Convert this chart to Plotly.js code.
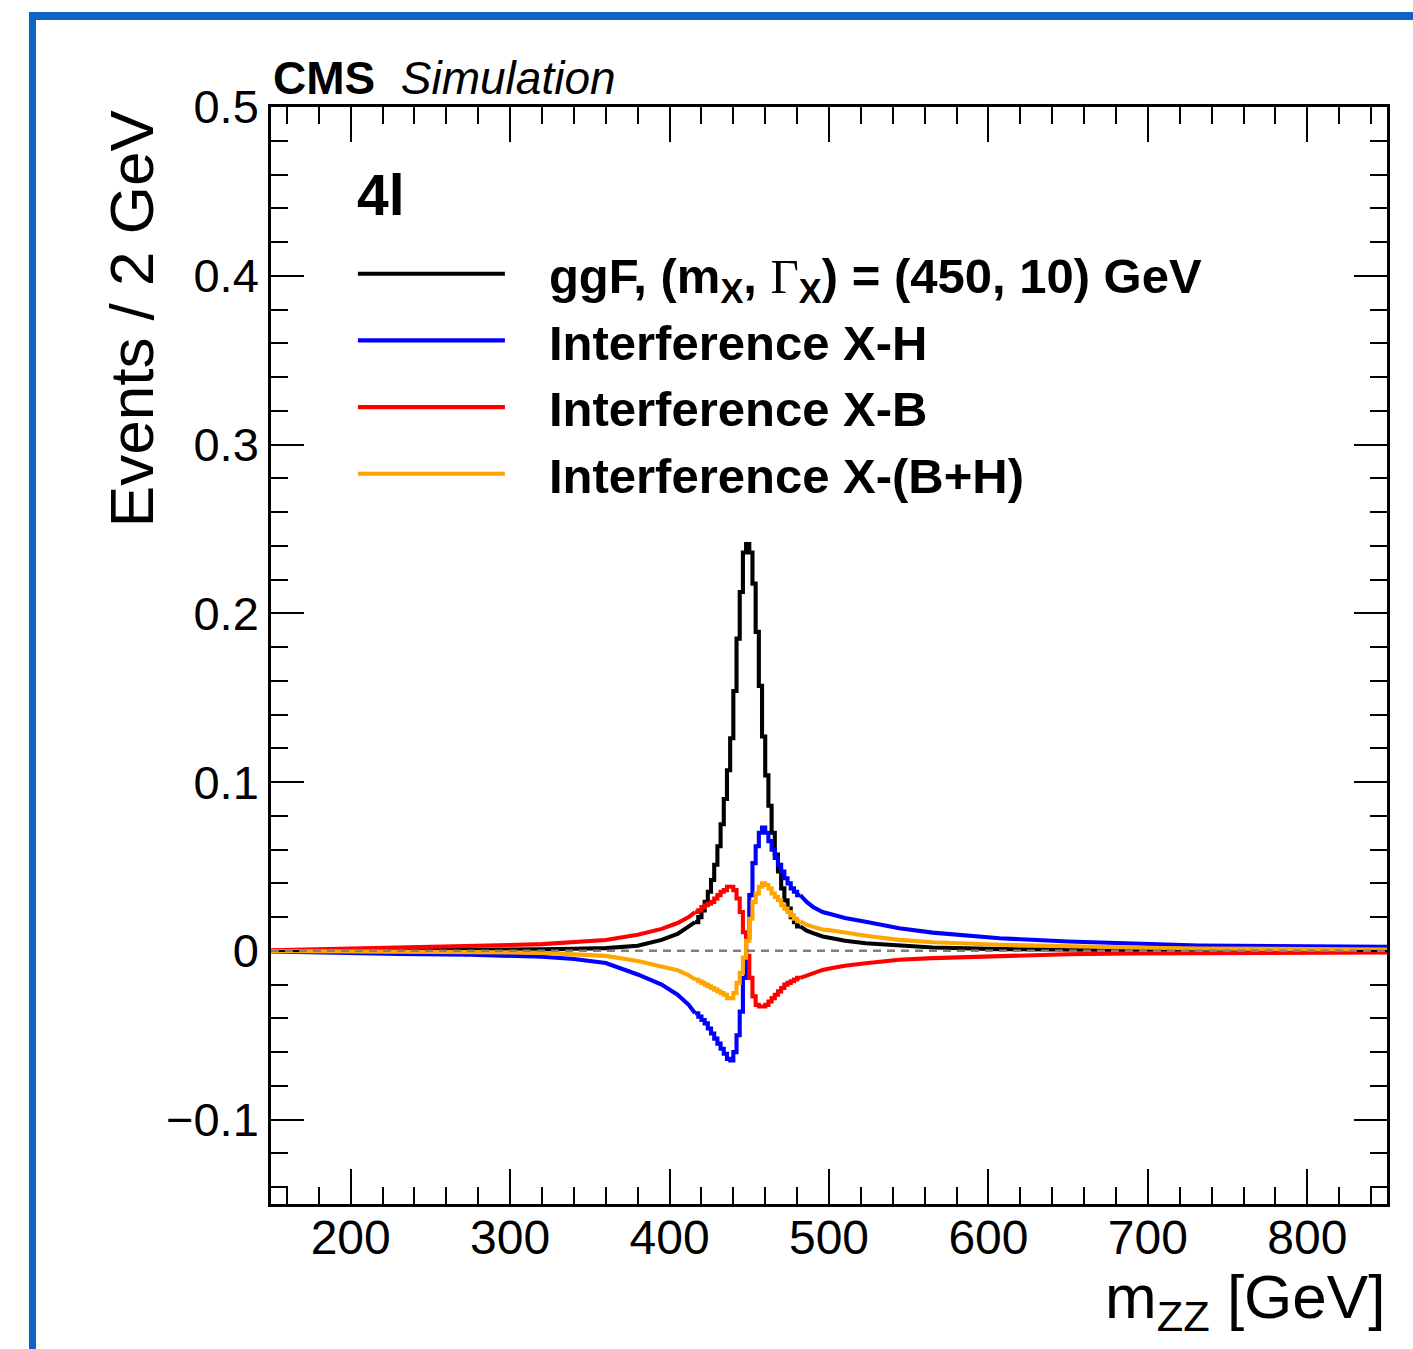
<!DOCTYPE html>
<html>
<head>
<meta charset="utf-8">
<script src="https://cdn.plot.ly/plotly-3.0.1.min.js"></script>
<style>
  html, body { margin: 0; padding: 0; background: #ffffff; }
  #wrap { position: relative; width: 1413px; height: 1349px; overflow: hidden; background: #fff; }
  #chart { position: absolute; left: 0; top: 0; width: 1413px; height: 1349px; }
  #frame { position: absolute; left: 29px; top: 12px; right: -20px; bottom: -20px;
           border-top: 8px solid #0a65c7; border-left: 7px solid #0a65c7; pointer-events: none; }
</style>
</head>
<body>
<div id="wrap">
  <div id="chart"></div>
  <div id="frame"></div>
</div>
<script>
// ---------------- data (Events / 2 GeV) ----------------
// core region: 2 GeV bins, low edges 416 ... 480, last edge 482
const coreEdges = [416,418,420,422,424,426,428,430,432,434,436,438,440,442,444,446,448,450,
                   452,454,456,458,460,462,464,466,468,470,472,474,476,478,480,482];
const ggfCore = [0.017,0.020,0.024,0.029,0.035,0.042,0.051,0.062,0.075,0.090,0.107,0.126,0.154,0.185,0.2126,0.236,0.241,0.236,
                 0.2176,0.189,0.157,0.127,0.104,0.086,0.070,0.057,0.047,0.037,0.030,0.025,0.020,0.017,0.0145];
const xhCore  = [-0.037,-0.039,-0.041,-0.043,-0.046,-0.049,-0.052,-0.055,-0.058,-0.061,-0.064,-0.065,-0.060,-0.050,-0.036,-0.016,0.008,0.033,
                 0.052,0.062,0.070,0.073,0.070,0.065,0.060,0.055,0.051,0.047,0.043,0.040,0.037,0.035,0.033];
const xbCore  = [0.023,0.024,0.026,0.027,0.028,0.029,0.031,0.033,0.035,0.036,0.038,0.038,0.036,0.031,0.023,0.011,-0.003,-0.016,
                 -0.027,-0.032,-0.033,-0.033,-0.032,-0.030,-0.028,-0.026,-0.024,-0.022,-0.020,-0.019,-0.018,-0.017,-0.016];
const xbhCore = [-0.017,-0.018,-0.019,-0.020,-0.021,-0.022,-0.023,-0.024,-0.025,-0.026,-0.028,-0.028,-0.025,-0.019,-0.013,-0.004,0.006,0.019,
                 0.029,0.034,0.038,0.040,0.039,0.037,0.034,0.032,0.030,0.027,0.025,0.023,0.021,0.019,0.0175];

// smooth tails (low-mass side and high-mass side)
const leftMass  = [150,190,230,275,300,320,340,360,380,395,405,412,416];
const ggfLeft   = [0,0.0001,0.0003,0.0006,0.0007,0.0009,0.0012,0.0016,0.003,0.0065,0.010,0.0144,0.017];
const xhLeft    = [-0.0003,-0.0012,-0.0018,-0.0023,-0.0027,-0.0035,-0.0048,-0.0072,-0.014,-0.020,-0.026,-0.032,-0.037];
const xbLeft    = [0.0003,0.001,0.002,0.0029,0.0035,0.004,0.005,0.0064,0.0095,0.013,0.0165,0.020,0.023];
const xbhLeft   = [-0.0001,-0.0002,-0.0003,-0.0007,-0.0009,-0.0012,-0.002,-0.003,-0.006,-0.009,-0.0115,-0.0145,-0.017];

const rightMass = [482,486,490,496,502,510,523,544,565,607,650,690,732,800,850];
const ggfRight  = [0.0145,0.012,0.0105,0.0085,0.0075,0.006,0.0045,0.003,0.002,0.001,0.0006,0.0003,0.0002,0.0001,0.0001];
const xhRight   = [0.033,0.029,0.026,0.023,0.0215,0.0195,0.0172,0.0134,0.0108,0.0075,0.0055,0.0041,0.0032,0.0027,0.0024];
const xbRight   = [-0.016,-0.0145,-0.013,-0.0113,-0.0102,-0.0088,-0.0073,-0.0053,-0.0043,-0.003,-0.002,-0.0015,-0.0012,-0.001,-0.0009];
const xbhRight  = [0.0175,0.0155,0.0142,0.0126,0.012,0.0106,0.0089,0.0065,0.0051,0.0036,0.0026,0.002,0.0014,0.001,0.0008];

const seriesNames = [
  "<b>ggF, (m<sub>X</sub>, <span style='font-family:\"Liberation Serif\",\"DejaVu Serif\",serif;font-weight:normal'>Γ</span><sub>X</sub>) = (450, 10) GeV</b>",
  "<b>Interference X-H</b>",
  "<b>Interference X-B</b>",
  "<b>Interference X-(B+H)</b>"
];
const seriesColors = ["#000000", "#0000ff", "#ff0000", "#ffa500"];

const xTickVals = [200, 300, 400, 500, 600, 700, 800];
const yTickVals = [-0.1, 0, 0.1, 0.2, 0.3, 0.4, 0.5];
const yTickText = ["\u22120.1", "0", "0.1", "0.2", "0.3", "0.4", "0.5"];

// ---------------- traces ----------------
const FONT = "'Liberation Sans', Arial, Helvetica, sans-serif";
const cores  = [ggfCore, xhCore, xbCore, xbhCore];
const lefts  = [ggfLeft, xhLeft, xbLeft, xbhLeft];
const rights = [ggfRight, xhRight, xbRight, xbhRight];
const LW = 4.1;
const traces = [];
for (let i = 0; i < 4; i++) {
  const c = seriesColors[i];
  traces.push({ x: leftMass, y: lefts[i], mode: "lines", line: {color: c, width: LW, shape: "linear"},
                showlegend: false, legendgroup: "g" + i, hoverinfo: "skip" });
  traces.push({ x: coreEdges, y: cores[i].concat([cores[i][cores[i].length - 1]]), mode: "lines",
                line: {color: c, width: LW, shape: "hv"}, name: seriesNames[i], legendgroup: "g" + i,
                showlegend: true });
  traces.push({ x: rightMass, y: rights[i], mode: "lines", line: {color: c, width: LW, shape: "linear"},
                showlegend: false, legendgroup: "g" + i, hoverinfo: "skip" });
}

const layout = {
  width: 1413, height: 1349,
  margin: {l: 271, r: 26, t: 107, b: 145},
  paper_bgcolor: "rgba(0,0,0,0)",
  plot_bgcolor: "#ffffff",
  font: {family: FONT, color: "#000"},
  showlegend: true,
  legend: {
    x: 0.0698, xanchor: "left", y: 0.883, yanchor: "top",
    bgcolor: "rgba(0,0,0,0)", borderwidth: 0,
    font: {size: 49, family: FONT, color: "#000"},
    itemwidth: 190, tracegroupgap: 0, traceorder: "normal"
  },
  xaxis: {
    range: [150, 850], tickvals: xTickVals, ticktext: xTickVals.map(String),
    ticks: "inside", ticklen: 35, tickwidth: 2, tickcolor: "#000",
    showline: true, linewidth: 2.8, linecolor: "#000", mirror: "allticks",
    showgrid: false, zeroline: false, ticklabelstandoff: -10,
    tickfont: {size: 48, family: FONT, color: "#000"},
    minor: {dtick: 20, tick0: 0, ticks: "inside", ticklen: 17, tickwidth: 2, tickcolor: "#000", showgrid: false}
  },
  yaxis: {
    range: [-0.15, 0.5], tickvals: yTickVals, ticktext: yTickText,
    ticks: "inside", ticklen: 33, tickwidth: 2, tickcolor: "#000",
    showline: true, linewidth: 2.8, linecolor: "#000", mirror: "allticks",
    showgrid: false, zeroline: false,
    tickfont: {size: 47, family: FONT, color: "#000"},
    minor: {dtick: 0.02, tick0: 0, ticks: "inside", ticklen: 17, tickwidth: 2, tickcolor: "#000", showgrid: false}
  },
  shapes: [
    {type: "line", xref: "paper", x0: 0, x1: 1, yref: "y", y0: 0, y1: 0, layer: "above",
     line: {color: "#7f7f7f", width: 2.5, dash: "8px,6px"}}
  ],
  annotations: [
    {text: "Events / 2 GeV", textangle: -90, xref: "paper", yref: "paper", x: -0.1253, y: 1.0,
     xanchor: "center", yanchor: "top", showarrow: false, font: {size: 62, family: FONT, color: "#000"}},
    {text: "m<sub>ZZ</sub> [GeV]", xref: "paper", yref: "paper", x: 1.0, y: -0.088,
     xanchor: "right", yanchor: "middle", showarrow: false, font: {size: 62, family: FONT, color: "#000"}},
    {text: "<b>CMS</b>  <i>Simulation</i>", xref: "paper", yref: "paper", x: 0.0, y: 1.0264,
     xanchor: "left", yanchor: "middle", showarrow: false, font: {size: 46, family: FONT, color: "#000"}},
    {text: "<b>4l</b>", xref: "paper", yref: "paper", x: 0.0752, y: 0.9198,
     xanchor: "left", yanchor: "middle", showarrow: false, font: {size: 57, family: FONT, color: "#000"}}
  ]
};

Plotly.newPlot("chart", traces, layout, {displayModeBar: false, staticPlot: true}).then(function () {
  // lengthen legend line samples to ROOT-style long lines
  document.querySelectorAll("#chart .legend g.traces").forEach(function (g) {
    const text = g.querySelector(".legendtext");
    const path = g.querySelector(".legendlines path");
    if (!text || !path) return;
    const tl = text.getBoundingClientRect().left;
    const m = path.parentNode.getScreenCTM();
    const xEnd = (tl - 44 - m.e) / m.a;
    path.setAttribute("d", "M" + (xEnd - 147) + ",0h147");
  });
});
</script>
</body>
</html>
